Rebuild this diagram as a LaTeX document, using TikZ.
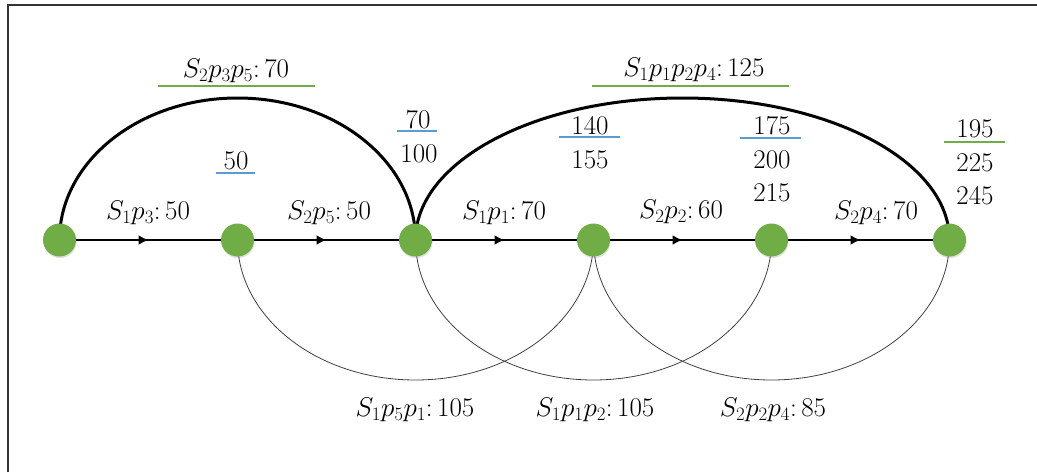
\RequirePackage{fix-cm}
\documentclass[tikz,border=0pt]{standalone}
\usetikzlibrary{arrows.meta,decorations.markings,shadows}
\pgfdeclarelayer{bg}
\pgfsetlayers{bg,main}
\definecolor{ngreen}{RGB}{112,173,71}
\definecolor{lblue}{RGB}{91,155,213}
\begin{document}
\begin{tikzpicture}[x=1pt,y=-1pt,
  vtx/.style={circle, fill=ngreen, minimum size=33pt, inner sep=0pt,
    drop shadow={opacity=0.25, shadow xshift=0.6pt, shadow yshift=-1.6pt}},
  lab/.style={font=\fontsize{27}{32}\selectfont, inner sep=0pt, anchor=center},
  mainedge/.style={line width=2.6pt, black, postaction={decorate},
    decoration={markings, mark=at position 0.5 with {\arrow{Latex[length=10pt,width=10pt]}}}},
  toparc/.style={line width=3pt, black},
  botarc/.style={line width=0.8pt, black!75},
  ulg/.style={line width=1.6pt, ngreen},
  ulb/.style={line width=1.6pt, lblue},
  frame/.style={line width=1.5pt, black!80}]
\useasboundingbox (0,0) rectangle (1037,472);
\draw[frame] (8,472) -- (8,5) -- (1037,5);
% vertices
\node[vtx] (n1) at (59.5,240) {};
\node[vtx] (n2) at (237.5,240) {};
\node[vtx] (n3) at (415.5,240) {};
\node[vtx] (n4) at (593.5,240) {};
\node[vtx] (n5) at (771.5,240) {};
\node[vtx] (n6) at (949.5,240) {};
\begin{pgfonlayer}{bg}
\draw[mainedge] (n1) -- (n2);
\draw[mainedge] (n2) -- (n3);
\draw[mainedge] (n3) -- (n4);
\draw[mainedge] (n4) -- (n5);
\draw[mainedge] (n5) -- (n6);
\draw[toparc] (n1.center) arc[start angle=180, end angle=0, x radius=178pt, y radius=142pt];
\draw[toparc] (n3.center) arc[start angle=180, end angle=0, x radius=267pt, y radius=142pt];
\draw[botarc] (n2.center) arc[start angle=180, end angle=360, x radius=178pt, y radius=140pt];
\draw[botarc] (n3.center) arc[start angle=180, end angle=360, x radius=178pt, y radius=140pt];
\draw[botarc] (n4.center) arc[start angle=180, end angle=360, x radius=178pt, y radius=140pt];
\end{pgfonlayer}
% edge labels
\node[lab] (e1) at (148,213) {$S_1p_3\colon 50$};
\node[lab] (e2) at (329,213) {$S_2p_5\colon 50$};
\node[lab] (e3) at (504,213) {$S_1p_1\colon 70$};
\node[lab] (e4) at (681,212) {$S_2p_2\colon 60$};
\node[lab] (e5) at (876,213) {$S_2p_4\colon 70$};
% top arc labels
\node[lab] (t1) at (236,71) {$S_2p_3p_5\colon 70$};
\draw[ulg] (158,86) -- (315,86);
\node[lab] (t2) at (694,70) {$S_1p_1p_2p_4\colon 125$};
\draw[ulg] (592,86) -- (789,86);
% bottom arc labels
\node[lab] (b1) at (415,410) {$S_1p_5p_1\colon 105$};
\node[lab] (b2) at (595,410) {$S_1p_1p_2\colon 105$};
\node[lab] (b3) at (773,410) {$S_2p_2p_4\colon 85$};
% times
\node[lab] (c50) at (236,161) {50};
\draw[ulb] (216,173) -- (255,173);
\node[lab] (c70) at (418,120) {70};
\draw[ulb] (397,131) -- (437,131);
\node[lab] (c100) at (419,154) {100};
\node[lab] (c140) at (590,126) {140};
\draw[ulb] (559,137) -- (620,137);
\node[lab] (c155) at (590,160) {155};
\node[lab] (c175) at (772,126) {175};
\draw[ulb] (740,138) -- (801,138);
\node[lab] (c200) at (772,160) {200};
\node[lab] (c215) at (772,193) {215};
\node[lab] (c195) at (975,129) {195};
\draw[ulg] (944,142) -- (1005,142);
\node[lab] (c225) at (975,163) {225};
\node[lab] (c245) at (975,196) {245};
\end{tikzpicture}
\end{document}
